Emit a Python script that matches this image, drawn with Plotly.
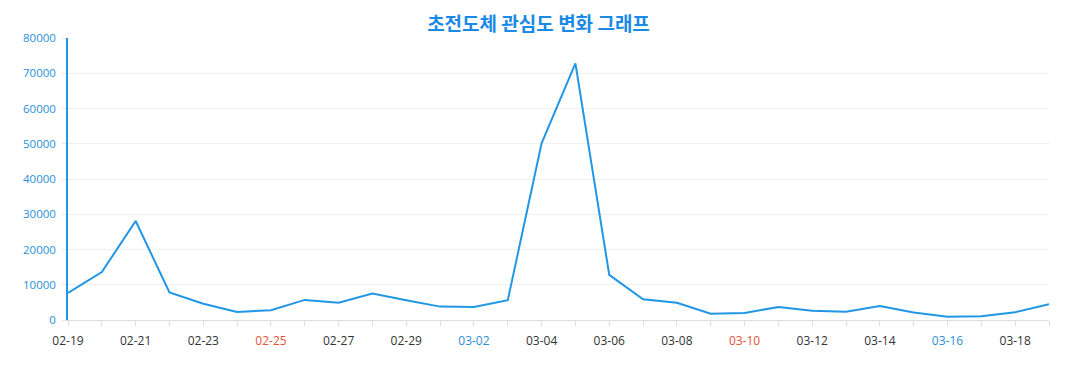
import plotly.graph_objects as go

dates = ["02-19", "02-20", "02-21", "02-22", "02-23", "02-24", "02-25", "02-26", "02-27", "02-28",
         "02-29", "03-01", "03-02", "03-03", "03-04", "03-05", "03-06", "03-07", "03-08", "03-09",
         "03-10", "03-11", "03-12", "03-13", "03-14", "03-15", "03-16", "03-17", "03-18", "03-19"]
values = [7700, 13600, 28100, 7800, 4600, 2300, 2750, 5700, 4900, 7500,
          5600, 3800, 3700, 5600, 50100, 72800, 12800, 5900, 4900, 1800,
          2000, 3700, 2600, 2350, 4000, 2100, 950, 1050, 2200, 4450]
red_labels = ["02-25", "03-10"]
blue_labels = ["03-02", "03-16"]
title_text = "초전도체 관심도 변화 그래프"

line_color = "#2196e6"
blue_text = "#2a8fd8"
red_text = "#e5533a"
gray_text = "#333333"

ticktext = []
for i, d in enumerate(dates):
    if i % 2 == 1:
        ticktext.append("")
    elif d in red_labels:
        ticktext.append(f"<span style='color:{red_text}'>{d}</span>")
    elif d in blue_labels:
        ticktext.append(f"<span style='color:{blue_text}'>{d}</span>")
    else:
        ticktext.append(d)

fig = go.Figure()
fig.add_trace(go.Scatter(x=dates, y=values, mode="lines",
                         line=dict(color=line_color, width=2)))

fig.update_layout(
    width=1061, height=374,
    margin=dict(l=60, r=20, t=30, b=62),
    paper_bgcolor="white", plot_bgcolor="white",
    showlegend=False,
    font=dict(family="Open Sans, Noto Sans CJK KR, sans-serif", size=12, color=gray_text),
    title=dict(text=f"<b>{title_text}</b>", x=0.5, xanchor="center", y=0.957, yanchor="middle",
               font=dict(family="Noto Sans CJK KR, sans-serif", size=19, color="#1a8ae6")),
)
fig.update_xaxes(
    type="category", range=[0, len(dates) - 1],
    tickmode="array", tickvals=dates, ticktext=ticktext,
    ticks="outside", ticklen=5, tickcolor="#dddddd",
    showline=True, linecolor="#dddddd", linewidth=1,
    showgrid=False, zeroline=False,
    tickfont=dict(size=12, color=gray_text),
    ticklabelstandoff=5,
)
fig.update_yaxes(
    range=[0, 80000], dtick=10000, tickformat="d",
    showgrid=True, gridcolor="#f0f0f0", gridwidth=1,
    showline=True, linecolor=line_color, linewidth=1.5,
    ticks="outside", ticklen=4, tickcolor="#e6e6e6",
    zeroline=False,
    tickfont=dict(size=11.5, color=blue_text),
    ticklabelstandoff=4,
)

fig.write_html("out.html")
